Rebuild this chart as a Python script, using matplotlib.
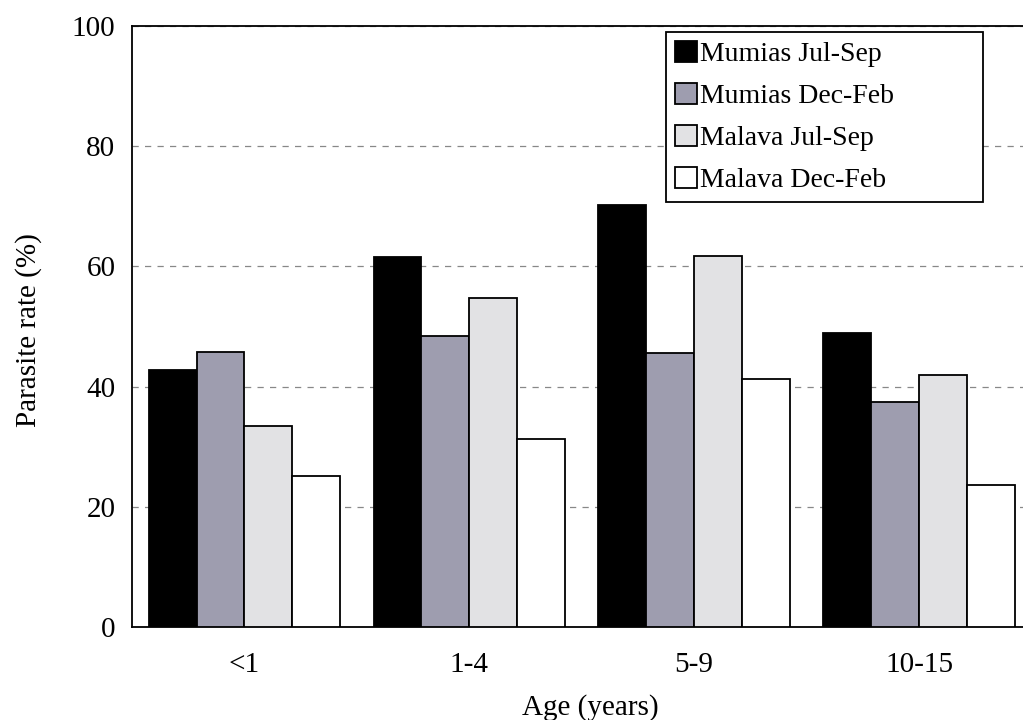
import matplotlib
matplotlib.use("Agg")
import matplotlib.pyplot as plt
import numpy as np

categories = ["<1", "1-4", "5-9", "10-15"]
series_names = ["Mumias Jul-Sep", "Mumias Dec-Feb", "Malava Jul-Sep", "Malava Dec-Feb"]
mumias_jul_sep = [42.8, 61.5, 70.2, 49.0]
mumias_dec_feb = [45.7, 48.5, 45.6, 37.5]
malava_jul_sep = [33.5, 54.8, 61.8, 42.0]
malava_dec_feb = [25.2, 31.2, 41.2, 23.6]
yticks = [0, 20, 40, 60, 80, 100]

values = [mumias_jul_sep, mumias_dec_feb, malava_jul_sep, malava_dec_feb]
colors = ["#000000", "#9e9daf", "#e2e2e4", "#ffffff"]

plt.rcParams['font.family'] = ['Liberation Serif', 'DejaVu Serif']

fig = plt.figure(figsize=(10.23, 7.2), dpi=100)
left = 132 / 1023
right = 1031.5 / 1023
bottom = 1 - 627 / 720
top = 1 - 26 / 720
ax = fig.add_axes([left, bottom, right - left, top - bottom])

x = np.arange(len(categories))
w = 0.213
for i, (vals, name, c) in enumerate(zip(values, series_names, colors)):
    ax.bar(x + (i - 1.5) * w, vals, width=w, color=c, edgecolor="black",
           linewidth=1.3, label=name, zorder=3)

ax.set_xlim(-0.5, 3.5)
ax.set_ylim(0, 100)
ax.set_yticks(yticks)
ax.set_xticks(x)
ax.set_xticklabels(categories)
ax.tick_params(axis='both', length=0, labelsize=21)
ax.tick_params(axis='y', pad=12)
ax.tick_params(axis='x', pad=18)
ax.yaxis.grid(True, linestyle=(0, (5, 5)), color="#888888", linewidth=0.9, zorder=0)
ax.set_axisbelow(True)
for s in ax.spines.values():
    s.set_linewidth(1.3)

ax.set_ylabel("Parasite rate (%)", fontsize=21)
ax.yaxis.set_label_coords(-0.100, 0.494)
ax.set_xlabel("Age (years)", fontsize=21)
ax.xaxis.set_label_coords(0.51, -0.112)

leg = ax.legend(loc="upper left",
                bbox_to_anchor=(666 / 1023, 1 - 200 / 720, (983 - 666) / 1023, 168 / 720),
                bbox_transform=fig.transFigure, mode="expand", fontsize=20, frameon=True,
                fancybox=False, edgecolor="black", handlelength=0.8,
                handleheight=0.8, handletextpad=0.1, labelspacing=0.56,
                borderpad=0.33, borderaxespad=0)
leg.get_frame().set_linewidth(1.3)
leg.get_frame().set_alpha(1)

fig.savefig("out.png", dpi=100)
